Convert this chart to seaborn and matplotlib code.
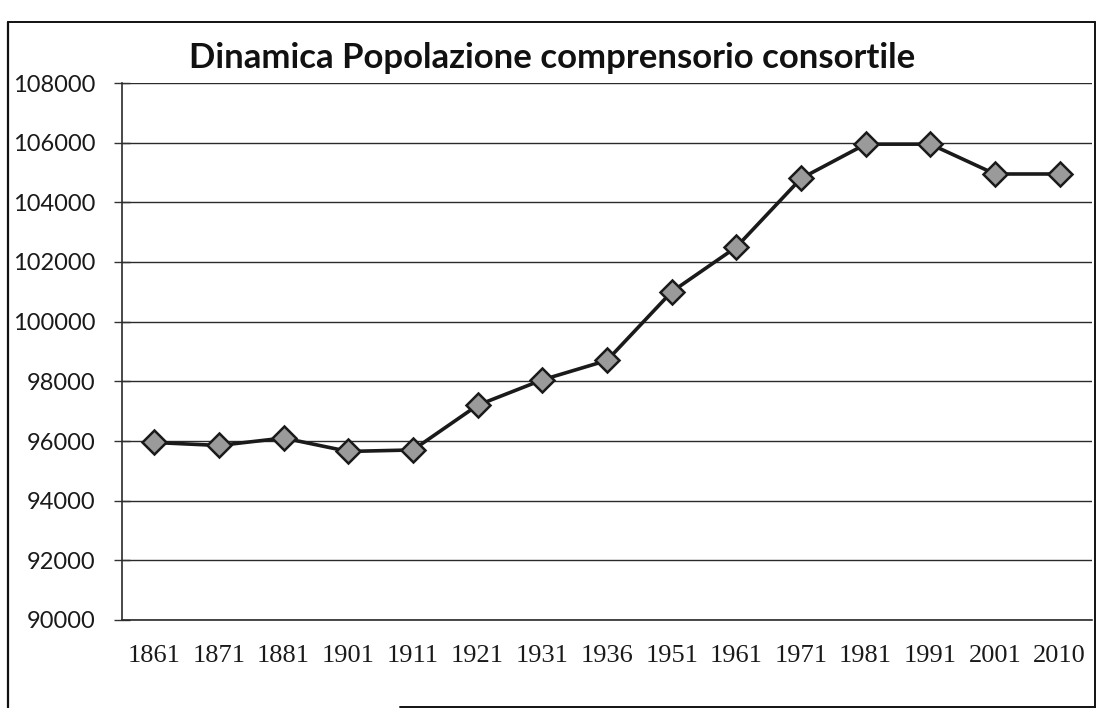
import matplotlib
matplotlib.use("Agg")
import matplotlib.pyplot as plt
import seaborn as sns
import pandas as pd
import numpy as np
from matplotlib.lines import Line2D

years = ["1861", "1871", "1881", "1901", "1911", "1921", "1931", "1936",
         "1951", "1961", "1971", "1981", "1991", "2001", "2010"]
population = [95950, 95850, 96100, 95650, 95700, 97200, 98050, 98700,
              101000, 102500, 104800, 105950, 105950, 104950, 104950]
y_ticks = [90000, 92000, 94000, 96000, 98000, 100000, 102000, 104000, 106000, 108000]
title = "Dinamica Popolazione comprensorio consortile"

sns.set_theme(style="white")
plt.rcParams['font.family'] = ['Lato', 'DejaVu Sans']

W, H = 1101, 708
fig = plt.figure(figsize=(W / 100, H / 100), dpi=100)
ax = fig.add_axes([122 / W, 1 - 620 / H, (1092 - 122) / W, (620 - 83) / H])

df = pd.DataFrame({"pos": np.arange(len(years)), "pop": population})
sns.lineplot(data=df, x="pos", y="pop", ax=ax, color="#1a1a1a", linewidth=2.6,
             marker="D", markersize=12, markerfacecolor="#9a9a9a",
             markeredgecolor="#1a1a1a", markeredgewidth=1.8, zorder=5)

ax.set_xlim(-0.5, len(years) - 0.5)
ax.set_ylim(y_ticks[0], y_ticks[-1])
ax.set_yticks(y_ticks)
ax.set_yticklabels([str(v) for v in y_ticks], fontsize=17, color="#1a1a1a")
ax.set_xticks(np.arange(len(years)))
ax.set_xticklabels(years, fontsize=19, family=['Liberation Serif'], color="#1a1a1a")
ax.set_xticks(np.arange(-0.5, len(years)), minor=True)
ax.tick_params(axis="x", which="major", length=0, pad=18)
ax.tick_params(axis="x", which="minor", length=6, width=1, direction="out", color="#333333")
ax.tick_params(axis="y", which="major", length=12, width=1, direction="inout",
               color="#333333", pad=13, left=True)
ax.set_xlabel("")
ax.set_ylabel("")

ax.grid(axis="y", color="#2a2a2a", linewidth=1.0)
ax.grid(axis="x", visible=False)
for s in ["top", "right"]:
    ax.spines[s].set_visible(False)
for s in ["left", "bottom"]:
    ax.spines[s].set_visible(True)
    ax.spines[s].set_color("#2a2a2a")
    ax.spines[s].set_linewidth(1.2)

fig.text(552 / W, 1 - 58 / H, title, ha="center", va="center",
         fontsize=25, fontweight="bold", color="#111111")

# outer chart border
bx0, bx1, by0 = 8 / W, 1095 / W, 1 - 22 / H
fig.add_artist(Line2D([bx0, bx0], [0, by0], transform=fig.transFigure, color="#111111", lw=1.6))
fig.add_artist(Line2D([bx0, bx1], [by0, by0], transform=fig.transFigure, color="#111111", lw=1.4))
fig.add_artist(Line2D([bx1, bx1], [0, by0], transform=fig.transFigure, color="#111111", lw=1.4))
fig.add_artist(Line2D([400 / W, bx1], [1 / H, 1 / H], transform=fig.transFigure, color="#111111", lw=1.4))

fig.savefig("out.png", dpi=100)
